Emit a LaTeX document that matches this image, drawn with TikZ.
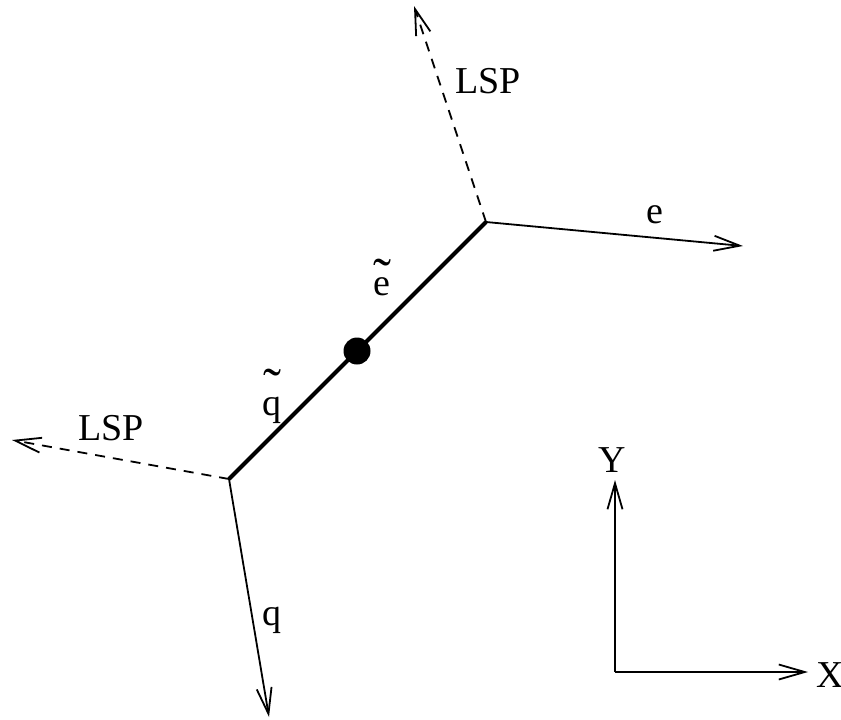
\documentclass[tikz,border=0pt]{standalone}
\usepackage{fontspec}
\setmainfont{Liberation Serif}
\usetikzlibrary{arrows.meta}
\newcommand{\Tld}[2][0pt]{\ooalign{#2\cr\hidewidth\raisebox{#1}{\fontsize{27}{30}\selectfont\char"02DC}\hidewidth\cr}}
\tikzset{
  lbl/.style={inner sep=0pt, anchor=base, font=\fontsize{19}{23}\selectfont},
  jet/.style={-{Straight Barb[length=13pt, width=7.5pt]}, line width=0.9pt},
  lsp/.style={-{Straight Barb[length=13pt, width=7.5pt]}, line width=0.9pt, dash pattern=on 5pt off 4pt},
  prop/.style={line width=2pt},
  axis/.style={-{Straight Barb[length=13pt, width=7.5pt]}, line width=0.9pt},
}
\begin{document}
\begin{tikzpicture}[x=0.5pt, y=-0.5pt]
    \useasboundingbox (0,0) rectangle (841,719);
    % vertices and end points
    \coordinate (vtop) at (486,222);
    \coordinate (vbot) at (229,479);
    \coordinate (lspA) at (414,6);
    \coordinate (eout) at (743,246);
    \coordinate (lspB) at (12,440);
    \coordinate (qout) at (269,717);
    \coordinate (orig) at (615,672);
    \coordinate (yend) at (615,480);
    \coordinate (xend) at (808,672);
    \draw[prop] (vbot) -- (vtop);
    \fill (357,351) circle[radius=13.5];
    \draw[lsp] (vtop) -- (lspA);
    \draw[jet] (vtop) -- (eout);
    \draw[lsp] (vbot) -- (lspB);
    \draw[jet] (vbot) -- (qout);
    \draw[axis] (orig) -- (yend);
    \draw[axis] (orig) -- (xend);
    % labels
    \node[lbl] (tLSPa) at (488,93)  {LSP};
    \node[lbl] (te)    at (655,223) {e};
    \node[lbl] (tse)   at (382,295) {\Tld{e}};
    \node[lbl] (tsq)   at (272,415) {\Tld[5pt]{q}};
    \node[lbl] (tLSPb) at (111,440) {LSP};
    \node[lbl] (tq)    at (272,625) {q};
    \node[lbl] (tY)    at (612,472) {Y};
    \node[lbl] (tX)    at (830,687) {X};
\end{tikzpicture}
\end{document}
